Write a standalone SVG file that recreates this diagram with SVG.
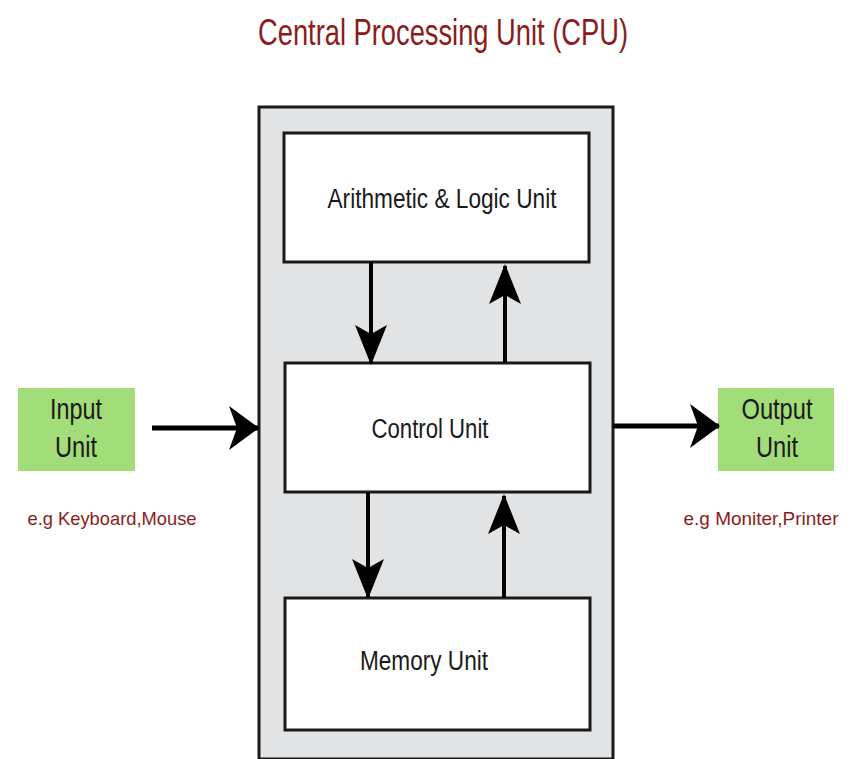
<svg xmlns="http://www.w3.org/2000/svg" width="853" height="759" viewBox="0 0 853 759">
<defs>
<style>
.box{fill:#ffffff;stroke:#1a1a1a;stroke-width:3}
.green{fill:#a3dd7a;stroke:none}
.lbl{font-family:"Liberation Sans",Arial,sans-serif;fill:#1a1a1a;text-anchor:middle}
.red{font-family:"Liberation Sans",Arial,sans-serif;fill:#8b1c1c;text-anchor:middle}
.conn{stroke:#000;fill:none}
</style>
<marker id="av" markerUnits="userSpaceOnUse" viewBox="0 0 40 32" refX="38" refY="16" markerWidth="40" markerHeight="32" orient="auto">
<path d="M40,16 L0,0 L9,16 L0,32 Z" fill="#000"/>
</marker>
<marker id="ah" markerUnits="userSpaceOnUse" viewBox="0 0 30 44" refX="29" refY="22" markerWidth="30" markerHeight="44" orient="auto">
<path d="M30,22 L0,0 L8,22 L0,44 Z" fill="#000"/>
</marker>
</defs>
<rect width="853" height="759" fill="#ffffff"/>
<text id="title" class="red" x="443" y="45" font-size="36" textLength="370" lengthAdjust="spacingAndGlyphs" fill="#7a1f24">Central Processing Unit (CPU)</text>
<g id="cpu">
<rect x="259" y="107" width="354" height="652" fill="#e1e3e4" stroke="#1a1a1a" stroke-width="3"/>
</g>
<g id="alu">
<rect class="box" x="284" y="133" width="305" height="129"/>
<text class="lbl" x="442" y="208" font-size="27" textLength="229" lengthAdjust="spacingAndGlyphs">Arithmetic &amp; Logic Unit</text>
</g>
<g id="control">
<rect class="box" x="285" y="363" width="305" height="129"/>
<text class="lbl" x="430" y="438" font-size="27" textLength="117" lengthAdjust="spacingAndGlyphs">Control Unit</text>
</g>
<g id="memory">
<rect class="box" x="285" y="598" width="305" height="132"/>
<text class="lbl" x="424" y="670" font-size="27" textLength="128" lengthAdjust="spacingAndGlyphs">Memory Unit</text>
</g>
<g id="input">
<rect class="green" x="18" y="388" width="117" height="83"/>
<text class="lbl" x="76" y="419" font-size="29" textLength="52" lengthAdjust="spacingAndGlyphs">Input</text>
<text class="lbl" x="76" y="457" font-size="29" textLength="42" lengthAdjust="spacingAndGlyphs">Unit</text>
<text class="red" x="112" y="525" font-size="19" textLength="169" lengthAdjust="spacingAndGlyphs">e.g Keyboard,Mouse</text>
</g>
<g id="output">
<rect class="green" x="718" y="388" width="116" height="83"/>
<text class="lbl" x="777" y="419" font-size="29" textLength="71" lengthAdjust="spacingAndGlyphs">Output</text>
<text class="lbl" x="777" y="457" font-size="29" textLength="42" lengthAdjust="spacingAndGlyphs">Unit</text>
<text class="red" x="761" y="525" font-size="19" textLength="155" lengthAdjust="spacingAndGlyphs">e.g Moniter,Printer</text>
</g>
<g id="connectors">
<line class="conn" x1="152" y1="428" x2="258" y2="428" stroke-width="5" marker-end="url(#ah)"/>
<line class="conn" x1="613" y1="426" x2="719" y2="426" stroke-width="5" marker-end="url(#ah)"/>
<line class="conn" x1="371" y1="262" x2="371" y2="363" stroke-width="4" marker-end="url(#av)"/>
<line class="conn" x1="505" y1="363" x2="505" y2="266" stroke-width="4" marker-end="url(#av)"/>
<line class="conn" x1="368" y1="492" x2="368" y2="597" stroke-width="4" marker-end="url(#av)"/>
<line class="conn" x1="504" y1="598" x2="504" y2="496" stroke-width="4" marker-end="url(#av)"/>
</g>
</svg>
